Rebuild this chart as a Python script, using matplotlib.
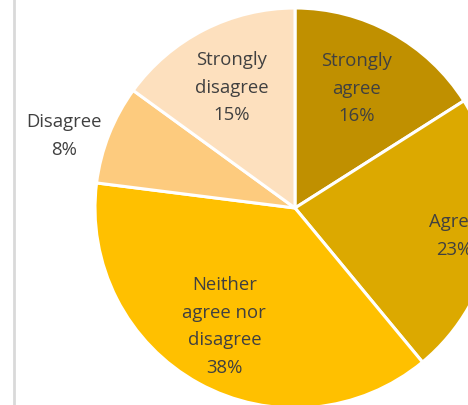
import numpy as np
import matplotlib.pyplot as plt

# survey responses (percent)
categories = ['Strongly\nagree', 'Agree', 'Neither\nagree nor\ndisagree', 'Disagree', 'Strongly\ndisagree']
shares = [16, 23, 38, 8, 15]
colors = ['#C09000', '#DCA900', '#FFC000', '#FDCB7E', '#FDE0BE']

plt.rcParams['font.family'] = ['Open Sans', 'DejaVu Sans']

fig = plt.figure(figsize=(4.68, 4.05), dpi=100)
ax = fig.add_axes([0, 0, 1, 1])

cx, cy, R = 295, 197, 200
wedges, _ = ax.pie(shares, colors=colors, startangle=90, counterclock=False,
                   center=(cx, cy), radius=R, frame=True,
                   wedgeprops=dict(edgecolor='white', linewidth=2.2))
ax.set_xlim(0, 468)
ax.set_ylim(0, 405)
ax.set_aspect('equal')
ax.axis('off')

# label placement: (distance as fraction of radius, angle tweak in degrees)
place = [(0.67, 1.5), (0.81, -1), (0.69, -2), (1.21, 4.3), (0.68, 0.7)]
for w, cat, val, (d, da) in zip(wedges, categories, shares, place):
    ang = np.deg2rad((w.theta1 + w.theta2) / 2 + da)
    x = cx + d * R * np.cos(ang)
    y = cy + d * R * np.sin(ang)
    ax.text(x, y, f'{cat}\n{val}%', ha='center', va='center', fontsize=13.3,
            color='#404040', linespacing=1.68)

# left border of the chart area
ax.plot([13.5, 13.5], [0, 405], color='#D9D9D9', lw=2)

fig.savefig('out.png', dpi=100)
